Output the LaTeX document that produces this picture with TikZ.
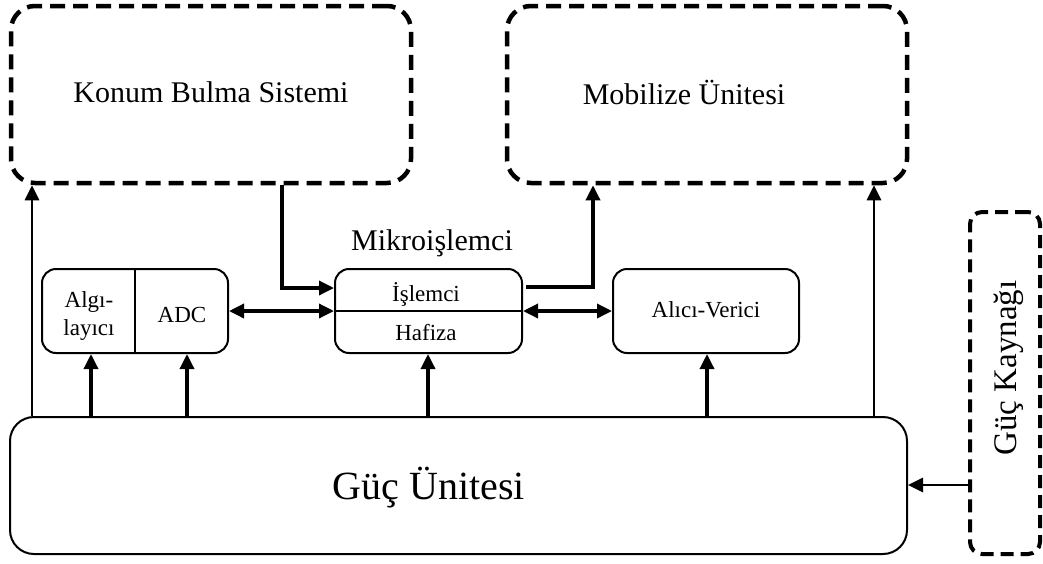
\documentclass[tikz,border=0pt]{standalone}
\usepackage{fontspec}
\setmainfont{Liberation Serif}
\usetikzlibrary{arrows.meta}
\tikzset{
  dbox/.style={draw, line width=4.5pt, dash pattern=on 15pt off 8pt, rounded corners=24pt, inner sep=0pt},
  sbox/.style={draw, line width=2pt, rounded corners=14pt, inner sep=0pt},
  txt/.style={inner sep=0pt, font=\fontsize{23}{26}\selectfont},
  bigtxt/.style={inner sep=0pt, font=\fontsize{30}{34}\selectfont},
  tip/.style={},
  arr/.style={line width=3.4pt, -{Triangle[length=15pt,width=14pt]}},
  darr/.style={line width=3.4pt, {Triangle[length=15pt,width=14pt]}-{Triangle[length=15pt,width=14pt]}},
  larr/.style={line width=2.8pt, -{Triangle[length=15pt,width=14pt]}},
}
\begin{document}
\begin{tikzpicture}[x=1pt,y=-1pt]
\useasboundingbox (0,0) rectangle (1043,563);
% dashed boxes
\node[dbox, minimum width=400pt, minimum height=177pt] (konum) at (211,94.5) {};
\node[bigtxt] at (211,92) {Konum Bulma Sistemi};
\node[dbox, minimum width=400pt, minimum height=177pt] (mob) at (707,94.5) {};
\node[bigtxt] at (684,92) {Mobilize Ünitesi};
\node[dbox, line width=4pt, rounded corners=12pt, dash pattern=on 13pt off 7pt, minimum width=70pt, minimum height=342pt] (kay) at (1005,383) {};
\node[inner sep=0pt, font=\fontsize{33}{36}\selectfont, rotate=90] at (1009,368) {Güç Kaynağı};
% solid boxes
\node[sbox, rounded corners=24pt, minimum width=897pt, minimum height=137pt] (gu) at (458.5,485.5) {};
\node[inner sep=0pt, font=\fontsize{40}{44}\selectfont] at (429,488) {Güç Ünitesi};
\node[sbox, minimum width=186pt, minimum height=84pt] (sens) at (135,311) {};
\node[txt, align=center, font=\fontsize{23}{28}\selectfont] at (89,316) {Algı-\\layıcı};
\node[txt] at (182,315) {ADC};
\coordinate (divx) at (135,0);
\draw[line width=1.3pt] (sens.north -| divx) -- (sens.south -| divx);
\node[sbox, minimum width=187pt, minimum height=84pt] (mik) at (428.5,311) {};
\node[bigtxt] at (432,243) {Mikroişlemci};
\node[txt] at (426,294) {İşlemci};
\node[txt] at (426,333) {Hafiza};
\draw[line width=1.3pt] (mik.west) -- (mik.east);
\node[sbox, minimum width=186pt, minimum height=84pt] (alici) at (706,311) {};
\node[txt] at (706,310) {Alıcı-Verici};
% x positions
\coordinate (xa) at (32,0);
\coordinate (xb) at (91,0);
\coordinate (xc) at (187,0);
\coordinate (xd) at (428,0);
\coordinate (xe) at (707,0);
\coordinate (xf) at (874,0);
\coordinate (xg) at (282,0);
\coordinate (xh) at (593,0);
\coordinate (ya) at (0,288);
\coordinate (yb) at (0,287);
\coordinate (yc) at (0,485);
% connectors
\draw[larr] (gu.north -| xa) -- (konum.south -| xa);
\draw[larr] (gu.north -| xf) -- (mob.south -| xf);
\draw[arr] (gu.north -| xb) -- (sens.south -| xb);
\draw[arr] (gu.north -| xc) -- (sens.south -| xc);
\draw[arr] (gu.north -| xd) -- (mik.south -| xd);
\draw[arr] (gu.north -| xe) -- (alici.south -| xe);
\draw[arr] (konum.south -| xg) -- (xg |- ya) -- (mik.west |- ya);
\draw[arr] ([xshift=3pt]mik.east |- yb) -- (xh |- yb) -- (mob.south -| xh);
\draw[darr] (sens.east) -- (mik.west);
\draw[darr] (mik.east) -- (alici.west);
\draw[larr] (kay.west |- yc) -- (gu.east |- yc);
\end{tikzpicture}
\end{document}
